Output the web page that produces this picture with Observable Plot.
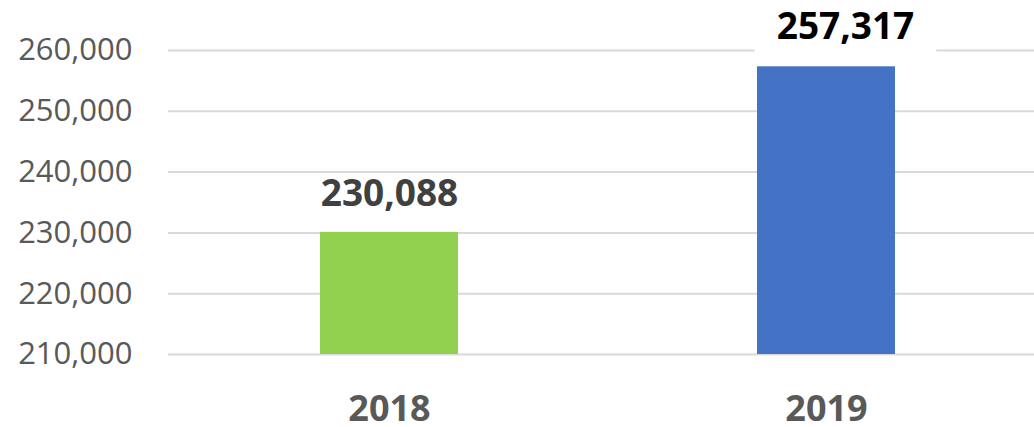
<!DOCTYPE html>
<html><head><meta charset="utf-8">
<script src="https://cdn.jsdelivr.net/npm/d3@7"></script>
<script src="https://cdn.jsdelivr.net/npm/@observablehq/plot@0.6"></script>
<style>body{margin:0;background:#fff;font-family:"Open Sans",sans-serif}</style>
</head><body><div id="chart"></div>
<script>
const years = ["2018", "2019"];
const values = [230088, 257317];
const barColors = ["#92d050", "#4472c4"];
const labelColors = ["#404040", "#000000"];
const yTicks = [210000, 220000, 230000, 240000, 250000, 260000];

const data = years.map((y, i) => ({year: y, value: values[i], color: barColors[i], lc: labelColors[i]}));
const fmt = d3.format(",");
const d2018 = data.filter(d => d.year === "2018");
const d2019 = data.filter(d => d.year === "2019");

const chart = Plot.plot({
  width: 1034, height: 427,
  marginLeft: 168, marginRight: 0, marginTop: 50, marginBottom: 73,
  style: {fontFamily: "Open Sans, sans-serif", background: "#fff"},
  x: {domain: years, range: [168, 1046], paddingInner: 0.685, paddingOuter: 0.345, label: null},
  y: {domain: [210000, 260000], label: null},
  marks: [
    Plot.ruleY(yTicks, {stroke: "#d9d9d9", strokeWidth: 2}),
    Plot.barY(data, {x: "year", y1: 210000, y2: "value", fill: "color"}),
    Plot.text(d2019, {x: "year", y: "value", text: d => fmt(d.value), dy: -40, dx: 19,
      fill: "lc", fontWeight: "bold", fontSize: 37, className: "boxed-label"}),
    Plot.text(d2018, {x: "year", y: "value", text: d => fmt(d.value), dy: -38,
      fill: "lc", fontWeight: "bold", fontSize: 37}),
    Plot.axisY(yTicks, {tickSize: 0, tickPadding: 36, tickFormat: fmt, fontSize: 31, fill: "#595959", label: null}),
    Plot.axisX({tickSize: 0, tickPadding: 41, fontSize: 36, fontWeight: "bold", fill: "#595959", label: null})
  ]
});
document.getElementById("chart").appendChild(chart);

// white label box (like the spreadsheet data-label fill) behind the 2019 label
const g = chart.querySelector("g.boxed-label");
if (g) {
  const t = g.querySelector("text");
  const b = t.getBBox();
  const m = t.getCTM();
  const rect = document.createElementNS("http://www.w3.org/2000/svg", "rect");
  const x0 = m.e + b.x, y0 = m.f + b.y;
  rect.setAttribute("x", x0 - 22);
  rect.setAttribute("y", y0);
  rect.setAttribute("width", b.width + 44);
  rect.setAttribute("height", b.height + 6);
  rect.setAttribute("fill", "white");
  g.parentNode.insertBefore(rect, g);
}
</script></body></html>
